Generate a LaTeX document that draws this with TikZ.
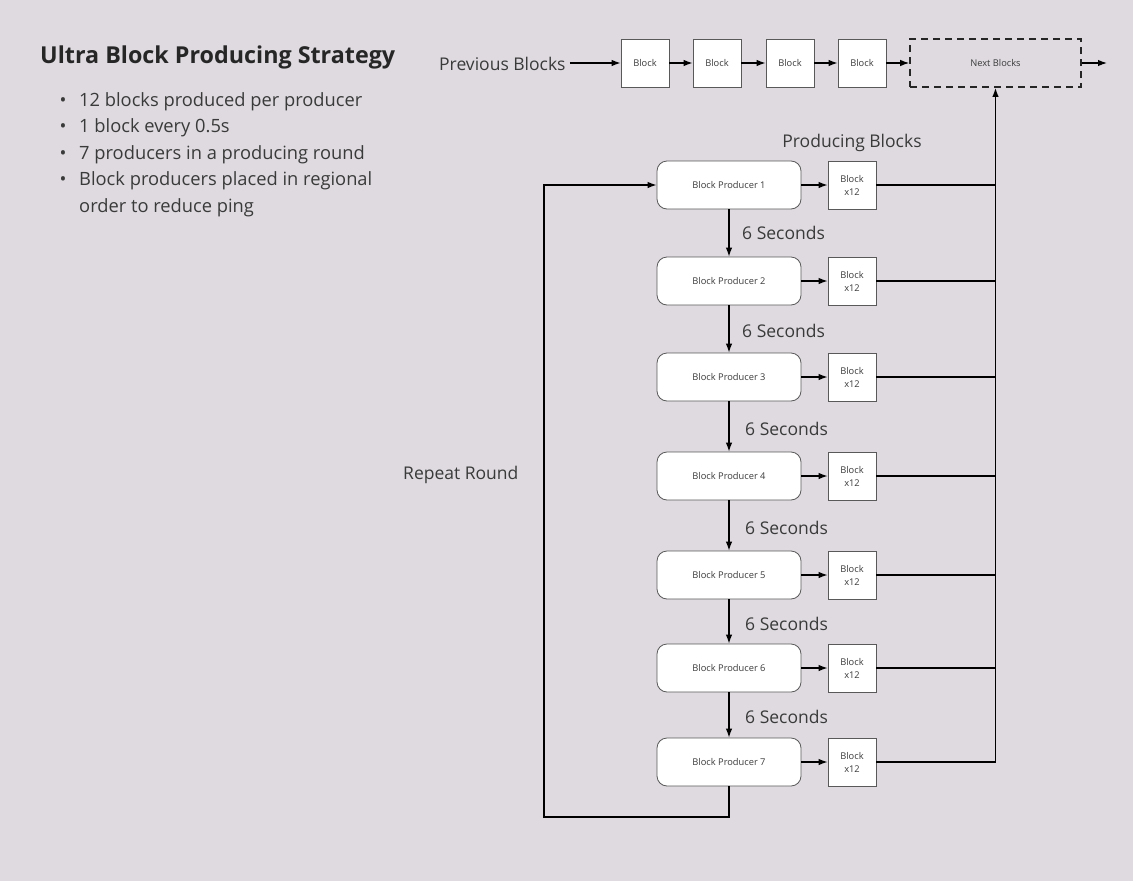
\documentclass[tikz,border=0pt]{standalone}
\usepackage{fontspec}
\setmainfont{Open Sans}
\usetikzlibrary{arrows.meta}
\definecolor{bgcol}{HTML}{DEDAE0}
\definecolor{txtcol}{HTML}{3A3A3A}

\begin{document}
\begin{tikzpicture}[x=1pt,y=-1pt,
		blk/.style={draw=black!65,fill=white,line width=0.8pt,minimum width=48pt,minimum height=48pt,inner sep=0pt,align=center,font=\fontsize{9.3}{13}\selectfont,text=txtcol},
		prod/.style={blk,rounded corners=10pt,minimum width=144pt},
		lbl/.style={font=\fontsize{17.5}{20}\selectfont,text=txtcol,inner sep=0pt},
		note/.style={lbl,font=\fontsize{18.3}{22}\selectfont},
		arr/.style={-{Latex[length=9pt,width=6.5pt]},line width=1.2pt}]
		%%%%% START %%%%%
		
		\fill[bgcol] (0,0) rectangle (1133,881);
		
		% title and notes
		\node[anchor=west,inner sep=0pt,font=\fontsize{23.3}{28}\selectfont\bfseries,text=black!85] (title) at (40,57) {Ultra Block Producing Strategy};
		\foreach \k/\y/\t in {1/102/12 blocks produced per producer,2/128/1 block every 0.5s,3/155/7 producers in a producing round,4/181/Block producers placed in regional}{
			\node[note] (dot\k) at (63,\y) {\textbullet};
			\node[note,anchor=west] (note\k) at (79,\y) {\t};
		}
		\node[note,anchor=west] (note5) at (79,208) {order to reduce ping};
		
		% chain of blocks
		\node[lbl,anchor=west] (prev) at (439,64) {Previous Blocks};
		\foreach \k/\x in {1/645,2/717,3/790,4/862}{
			\node[blk] (c\k) at (\x,63) {Block};
		}
		\node[blk,draw=black!85,fill=none,dashed,dash pattern=on 7pt off 5pt,line width=1.6pt,minimum width=171pt] (nb) at (995.5,63) {Next Blocks};
		\coordinate (out) at (1107,63);
		\draw[arr,shorten <=4pt] (prev.east |- c1) -- (c1);
		\draw[arr] (c1) -- (c2);
		\draw[arr] (c2) -- (c3);
		\draw[arr] (c3) -- (c4);
		\draw[arr] (c4) -- (nb);
		\draw[arr] (nb) -- (out);
		
		% producers
		\node[lbl] (pb) at (852,143) {Producing Blocks};
		\foreach \i/\y in {1/185,2/281,3/377,4/476,5/575,6/668,7/762}{
			\node[prod] (p\i) at (729,\y) {Block Producer \i};
			\node[blk] (b\i) at (852,\y) {Block\\x12};
			\draw[arr] (p\i) -- (b\i);
			\draw[line width=1.2pt] (b\i.east) -- (b\i.east -| nb.south);
		}
		\foreach \i/\j/\x/\y in {1/2/742/233,2/3/742/331,3/4/745/429,4/5/745/528,5/6/745/624,6/7/745/717}{
			\draw[arr] (p\i) -- (p\j);
			\node[lbl,anchor=west] (s\i) at (\x,\y) {6 Seconds};
		}
		\draw[arr,line width=1.6pt] (b7.east -| nb.south) -- (nb.south);
		
		% round loop
		\coordinate (rl) at (544,817);
		\draw[arr] (p7.south) |- (rl) |- (p1.west);
		\node[lbl,anchor=west] (rr) at (403,475) {Repeat Round};
		
		%%%%% END %%%%%
	\end{tikzpicture}
\end{document}
